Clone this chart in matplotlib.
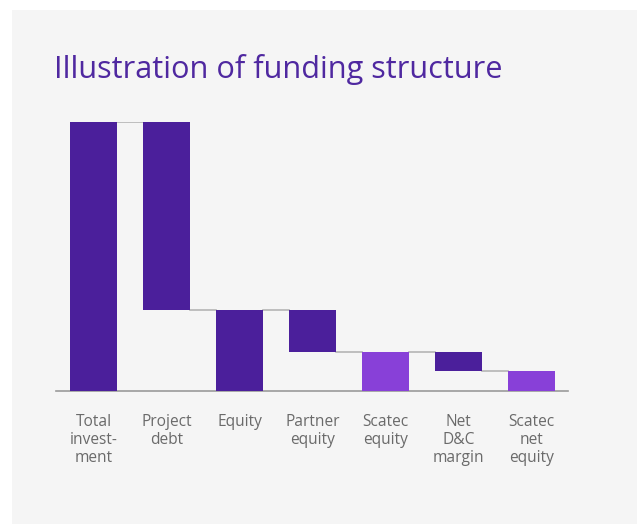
import matplotlib.pyplot as plt
from matplotlib.patches import Rectangle

# waterfall data (total = 100)
labels = ['Total\ninvest-\nment', 'Project\ndebt', 'Equity', 'Partner\nequity',
          'Scatec\nequity', 'Net\nD&C\nmargin', 'Scatec\nnet\nequity']
heights = [100, 70, 30, 15.5, 14.5, 7, 7.5]
bottoms = [0, 30, 0, 14.5, 0, 7.5, 0]
kinds = ['dark', 'dark', 'dark', 'dark', 'light', 'dark', 'light']
# level of the connector leaving each bar
links = [100, 30, 30, 14.5, 14.5, 7.5]

colors = {'dark': '#4b1f9b', 'light': '#8840d8'}

fig = plt.figure(figsize=(6.37, 5.24), dpi=100)
fig.patch.set_facecolor('white')
fig.patches.append(Rectangle((12/637, 0), 1, 514/524, transform=fig.transFigure,
                             facecolor='#f5f5f5', edgecolor='none', zorder=-1))

ax = fig.add_axes([56/637, 133/524, 512/637, 269/524])
ax.set_facecolor('none')

x = list(range(len(labels)))
ax.bar(x, heights, bottom=bottoms, width=0.64,
       color=[colors[k] for k in kinds], zorder=3)

# connector lines between bars
w = 0.32
for i, lv in enumerate(links):
    ax.plot([x[i] + w, x[i+1] - w], [lv, lv], color='#b5b5b5', lw=1.2, zorder=2)

ax.set_xlim(-0.514, 6.5)
ax.set_ylim(0, 100)
for s in ['top', 'right', 'left']:
    ax.spines[s].set_visible(False)
ax.spines['bottom'].set_color('#9a9a9a')
ax.spines['bottom'].set_linewidth(1.2)
ax.set_yticks([])
ax.set_xticks(x)
ax.set_xticklabels(labels, fontsize=11.2, color='#6a6a6a', family='Open Sans', linespacing=1.17)
ax.tick_params(axis='x', length=0, pad=16.5)

fig.text(54/637, 1 - 78/524, 'Illustration of funding structure', fontsize=22.1,
         color='#4f28a0', family='Open Sans', ha='left', va='baseline')

fig.savefig('out.png', dpi=100, facecolor=fig.get_facecolor())
